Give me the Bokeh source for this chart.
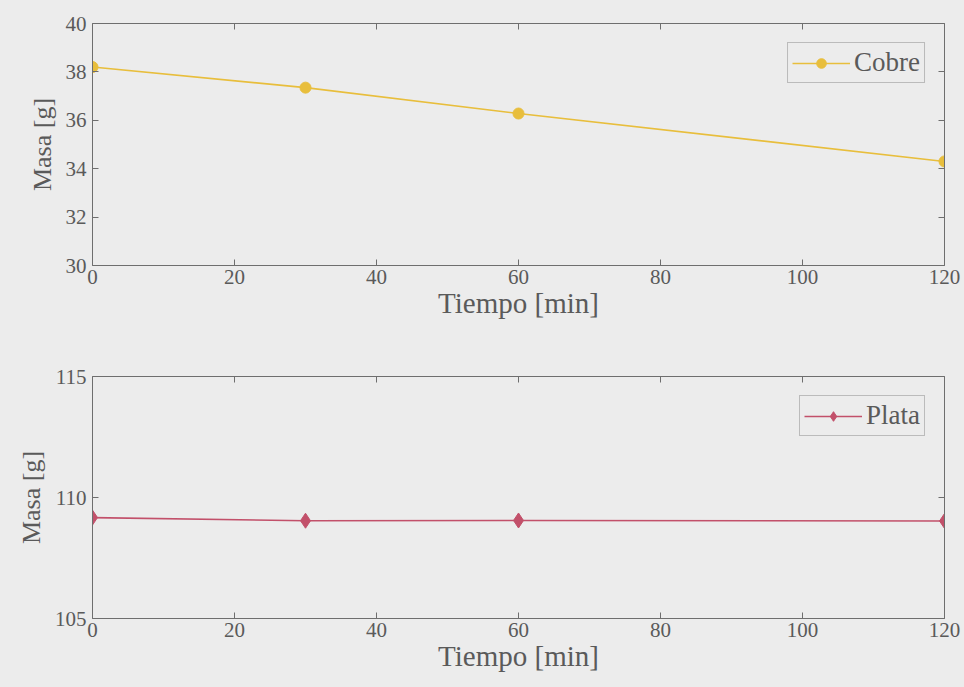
from bokeh.plotting import figure
from bokeh.layouts import column
from bokeh.models import LinearAxis, FixedTicker, Range1d
from bokeh.embed import file_html
from bokeh.resources import INLINE

tiempo = [0, 30, 60, 120]
cobre = [38.2, 37.35, 36.28, 34.3]
plata = [109.17, 109.04, 109.05, 109.03]
x_ticks = [0, 20, 40, 60, 80, 100, 120]
y_ticks_cobre = [30, 32, 34, 36, 38, 40]
y_ticks_plata = [105, 110, 115]

BG = "#ececec"
TXT = "#5a5a5a"
AX = "#6e6e6e"
FONT = "'Liberation Serif', 'DejaVu Serif', serif"


def style_axis(ax, ticks, show_labels=True):
    ax.ticker = FixedTicker(ticks=ticks)
    ax.major_tick_in = 6
    ax.major_tick_out = 0
    ax.minor_tick_in = 0
    ax.minor_tick_out = 0
    ax.axis_line_color = AX
    ax.major_tick_line_color = AX
    ax.major_label_text_font = FONT
    ax.major_label_text_font_size = "21px"
    ax.major_label_text_color = TXT if show_labels else None
    ax.axis_label_text_font = FONT
    ax.axis_label_text_font_style = "normal"
    ax.axis_label_text_color = TXT


def make_fig(y, yr, yticks, color, marker, label, msize, top, bottom):
    p = figure(output_backend="svg", toolbar_location=None,
               frame_width=852, frame_height=242,
               x_range=Range1d(0, 120), y_range=Range1d(*yr),
               min_border_left=92, min_border_right=20,
               min_border_top=top, min_border_bottom=bottom)
    p.background_fill_color = BG
    p.border_fill_color = BG
    p.outline_line_color = None
    p.grid.visible = False
    style_axis(p.xaxis[0], x_ticks)
    style_axis(p.yaxis[0], yticks)
    p.xaxis[0].axis_label = "Tiempo [min]"
    p.xaxis[0].axis_label_text_font_size = "29px"
    p.xaxis[0].axis_label_standoff = 0
    p.xaxis[0].major_label_standoff = 4
    p.yaxis[0].axis_label = "Masa [g]"
    p.yaxis[0].axis_label_text_font_size = "26px"
    p.yaxis[0].axis_label_standoff = 6
    p.yaxis[0].major_label_standoff = 6
    ax_r = LinearAxis()
    style_axis(ax_r, yticks, False)
    p.add_layout(ax_r, "right")
    ax_t = LinearAxis()
    style_axis(ax_t, x_ticks, False)
    p.add_layout(ax_t, "above")
    p.line(tiempo, y, line_color=color, line_width=1.6, legend_label=label)
    p.scatter(tiempo, y, marker=marker, size=msize, fill_color=color,
              line_color=color, legend_label=label)
    lg = p.legend[0]
    lg.location = "top_right"
    lg.margin = 19
    lg.border_line_color = "#8a8a8a"
    lg.background_fill_color = BG
    lg.label_text_font = FONT
    lg.label_text_font_size = "27px"
    lg.label_text_color = TXT
    lg.glyph_width = 58
    lg.glyph_height = 24
    lg.label_standoff = 4
    lg.padding = 4
    lg.spacing = 0
    return p


p1 = make_fig(cobre, (30, 40), y_ticks_cobre, "#e8be3c", "circle", "Cobre", 11, 23, 78)
p2 = make_fig(plata, (105, 115), y_ticks_plata, "#c2506a", "diamond", "Plata", 15, 33, 69)

layout = column(p1, p2, spacing=0)
layout.background = BG
open("out.html", "w").write(file_html(layout, INLINE))
